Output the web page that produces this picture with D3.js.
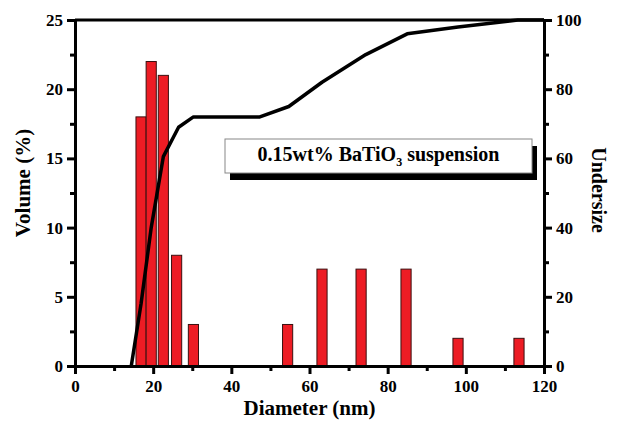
<!DOCTYPE html>
<html>
<head>
<meta charset="utf-8">
<script src="https://cdn.jsdelivr.net/npm/d3@7"></script>
<style>
body { margin: 0; background: #fff; }
text { font-family: "Liberation Serif", "Times New Roman", serif; font-weight: bold; }
</style>
</head>
<body>
<div id="chart"></div>
<script>
// bar data (log spaced size classes)
var diameters = [16.9, 19.5, 22.6, 26.0, 30.3, 54.4, 63.2, 73.2, 84.7, 98.0, 113.6];
var volumes = [18, 22, 21, 8, 3, 3, 7, 7, 7, 2, 2];

// cumulative undersize curve
var underX = [14.4, 16.9, 19.5, 22.6, 26.5, 30.3, 47.3, 54.7, 63.2, 74.4, 85.0, 98.0, 113.3, 120];
var underY = [0, 18, 40, 60.5, 69, 72, 72, 75, 82, 90, 96, 98, 100, 100];

var xTicks = [0, 20, 40, 60, 80, 100, 120];
var yTicks = [0, 5, 10, 15, 20, 25];
var y2Ticks = [0, 20, 40, 60, 80, 100];

var margin = {top: 20, right: 73, bottom: 55, left: 75},
    width = 617 - margin.left - margin.right,
    height = 421 - margin.top - margin.bottom;

var x = d3.scaleLinear().domain([0, 120]).range([0, width]);
var y = d3.scaleLinear().domain([0, 25]).range([height, 0]);
var y2 = d3.scaleLinear().domain([0, 100]).range([height, 0]);

var svg = d3.select("#chart").append("svg")
        .attr("width", 617)
        .attr("height", 421)
    .append("g")
        .attr("transform", `translate(${margin.left}, ${margin.top})`);

// bars
var barW = x(2.6) - x(0);
svg.selectAll("rect.bar")
        .data(diameters).enter()
    .append("rect")
        .attr("class", "bar")
        .attr("x", d => x(d) - barW / 2)
        .attr("width", barW)
        .attr("y", (d, i) => y(volumes[i]))
        .attr("height", (d, i) => height - y(volumes[i]))
        .attr("fill", "#ed1c24")
        .attr("stroke", "#3a1010")
        .attr("stroke-width", 1);

// undersize line
var line = d3.line()
    .x(d => x(d[0]))
    .y(d => y2(d[1]));

svg.append("path")
    .datum(underX.map((d, i) => [d, underY[i]]))
    .attr("d", line)
    .attr("fill", "none")
    .attr("stroke", "#000")
    .attr("stroke-width", 3.5)
    .attr("stroke-linejoin", "round");

// axes helper
function styleAxis(g) {
    g.select(".domain").attr("stroke-width", 3).attr("stroke", "#000");
    g.selectAll(".tick line").attr("stroke-width", 3).attr("stroke", "#000");
    g.selectAll(".tick text")
        .attr("fill", "#000")
        .style("font-size", "17px")
        .style("font-family", '"Liberation Serif", "Times New Roman", serif')
        .style("font-weight", "bold");
}

// minor ticks
function minor(axisFn, scale, vals) {
    return axisFn(scale).tickValues(vals).tickSize(5).tickFormat("").tickSizeOuter(0);
}

svg.append("g")
    .attr("transform", `translate(0, ${height})`)
    .call(minor(d3.axisBottom, x, [10, 30, 50, 70, 90, 110]))
    .call(g => { styleAxis(g); g.select(".domain").remove(); });
svg.append("g")
    .call(minor(d3.axisLeft, y, [2.5, 7.5, 12.5, 17.5, 22.5]))
    .call(g => { styleAxis(g); g.select(".domain").remove(); });
svg.append("g")
    .attr("transform", `translate(${width}, 0)`)
    .call(minor(d3.axisRight, y2, [10, 30, 50, 70, 90]))
    .call(g => { styleAxis(g); g.select(".domain").remove(); });

// x axis
svg.append("g")
    .attr("transform", `translate(0, ${height})`)
    .call(d3.axisBottom(x).tickValues(xTicks).tickSize(8).tickSizeOuter(0).tickPadding(6))
    .call(styleAxis);

// left y axis
svg.append("g")
    .call(d3.axisLeft(y).tickValues(yTicks).tickSize(8).tickSizeOuter(0).tickPadding(4))
    .call(styleAxis);

// right y axis
svg.append("g")
    .attr("transform", `translate(${width}, 0)`)
    .call(d3.axisRight(y2).tickValues(y2Ticks).tickSize(8).tickSizeOuter(0).tickPadding(4))
    .call(styleAxis);

// top border
svg.append("line")
    .attr("x1", 0).attr("x2", width)
    .attr("y1", 0).attr("y2", 0)
    .attr("stroke", "#000")
    .attr("stroke-width", 3);

// axis titles
svg.append("text")
    .attr("x", width / 2)
    .attr("y", height + 49)
    .attr("text-anchor", "middle")
    .style("font-size", "21px")
    .text("Diameter (nm)");

svg.append("text")
    .attr("transform", "rotate(-90)")
    .attr("x", -163)
    .attr("y", -45)
    .attr("text-anchor", "middle")
    .style("font-size", "21px")
    .text("Volume (%)");

svg.append("text")
    .attr("transform", "rotate(90)")
    .attr("x", 170)
    .attr("y", -width - 48)
    .attr("text-anchor", "middle")
    .style("font-size", "20px")
    .text("Undersize");

// label box with shadow
var bx = 150, by = 119, bw = 307, bh = 34;
svg.append("rect")
    .attr("x", bx + 5).attr("y", by + 7)
    .attr("width", bw).attr("height", bh)
    .attr("fill", "#000");
svg.append("rect")
    .attr("x", bx).attr("y", by)
    .attr("width", bw).attr("height", bh)
    .attr("fill", "#fff")
    .attr("stroke", "#888")
    .attr("stroke-width", 1);

var label = svg.append("text")
    .attr("x", bx + bw / 2)
    .attr("y", by + 22)
    .attr("text-anchor", "middle")
    .style("font-size", "20px");
label.append("tspan").text("0.15wt% BaTiO");
label.append("tspan").attr("dy", 5).style("font-size", "12px").text("3");
label.append("tspan").attr("dy", -5).text(" suspension");
</script>
</body>
</html>
